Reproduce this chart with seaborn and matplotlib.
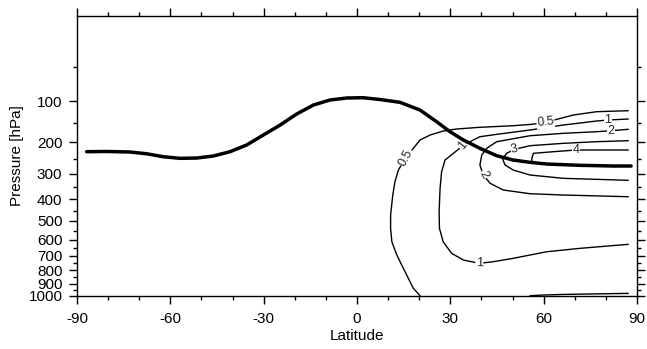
import numpy as np
import pandas as pd
import matplotlib
matplotlib.use("Agg")
import matplotlib.pyplot as plt
import seaborn as sns

# ---------------- data ----------------
# thick line (tropopause)
trop_lat = [-86.9, -80.5, -73.0, -67.6, -62.3, -56.9, -51.5, -46.2, -40.8, -35.5,
            -30.1, -24.7, -19.4, -14.0, -8.7, -3.3, 2.0, 7.4, 13.8, 20.25,
            25.6, 29.9, 34.2, 39.5, 44.9, 50.2, 55.6, 61.0, 71.7, 82.4, 88.1]
trop_p = [227.7, 227.0, 228.6, 234.0, 243.1, 248.2, 247.2, 240.9, 227.7, 208.0,
          180.3, 154.6, 128.4, 108.4, 97.9, 93.8, 93.2, 96.9, 102.7, 119.4,
          146.5, 171.6, 193.9, 217.6, 240.0, 253.6, 261.0, 266.6, 270.9, 273.2, 273.2]

# contour 0.5
c05_lat = [87.2, 77.0, 69.5, 60.6, 56.2, 50.2, 39.5, 32.0, 27.7, 23.5, 20.25, 15.7,
           13.3, 12.2, 11.5, 10.8, 10.8, 11.2, 12.8, 14.9, 16.5, 18.1, 20.25]
c05_p = [120.9, 123.1, 130.7, 147.9, 152.8, 156.3, 160.3, 164.6, 169.8, 180.3, 193.9, 246.3,
         286.9, 329.0, 381.6, 471.0, 538.1, 612.7, 694.4, 784.5, 858.3, 937.6, 1000.0]
# contour 0.5 near the surface
c05s_lat = [55.6, 60.0, 66.3, 75.0, 87.2]
c05s_p = [1000.0, 994.0, 989.0, 985.0, 980.0]

# contour 1
c1_lat = [87.2, 80.6, 77.0, 66.3, 55.6, 44.9, 39.5, 36.3, 34.0, 31.0, 28.3, 27.2,
          26.7, 26.4, 26.5, 27.7, 30.4, 34.2, 39.3, 43.8, 50.2, 61.0, 71.7, 87.2]
c1_p = [140.0, 142.4, 144.8, 154.6, 167.2, 178.5, 184.9, 198.6, 210.0, 232.6, 253.6, 292.8,
        354.5, 455.3, 538.1, 612.7, 683.5, 727.2, 749.6, 738.7, 715.9, 673.4, 652.3, 628.1]

# contour 2
c2_lat = [87.2, 81.6, 77.0, 66.3, 55.6, 44.9, 41.7, 40.1, 39.5, 40.6, 42.8, 47.0,
          55.6, 66.3, 87.2]
c2_p = [165.4, 169.0, 171.6, 175.8, 182.2, 198.6, 217.6, 237.8, 269.9, 304.4, 335.1, 361.2,
        376.2, 381.6, 388.7]

# contour 3
c3_lat = [87.2, 77.0, 66.3, 55.6, 50.6, 48.1, 46.8, 47.6, 50.2, 55.6, 66.3, 87.2]
c3_p = [195.8, 198.6, 203.2, 210.0, 220.6, 232.6, 250.4, 269.9, 286.9, 304.4, 316.4, 323.8]

# contour 4
c4_lat = [87.2, 70.4, 63.1, 56.7, 56.2, 56.2]
c4_p = [222.6, 222.6, 227.7, 232.6, 248.2, 259.1]

# contour labels: text, lat, pressure, rotation
lab_text = ["0.5", "1", "2", "3", "4", "0.5", "1", "2", "1"]
lab_lat = [60.6, 80.6, 81.6, 50.6, 70.4, 15.7, 34.0, 40.6, 39.3]
lab_p = [147.9, 142.4, 169.0, 220.6, 222.6, 246.3, 210.0, 304.4, 749.6]
lab_rot = [6, 0, 0, 14, 0, 62, 52, -62, -2]

# axis ticks
xticks_major = [-90, -60, -30, 0, 30, 60, 90]
xticks_minor = [-80, -70, -50, -40, -20, -10, 10, 20, 40, 50, 70, 80]
yticks_major = [100, 200, 300, 400, 500, 600, 700, 800, 900, 1000]
yticks_minor = [37.4, 150, 250, 350, 450, 550, 650, 750, 850, 950]

# ---------------- style ----------------
sns.set_theme(style="ticks")
plt.rcParams["font.family"] = ["Liberation Sans", "DejaVu Sans"]

fig = plt.figure(figsize=(6.47, 3.49), dpi=100)
W, H = 647.0, 349.0
ax = fig.add_axes([77 / W, 1 - 295.7 / H, (637 - 77) / W, (295.7 - 15.7) / H])

# vertical scale fitted to the reference tick spacing
OFF = 183.0
def fwd(p):
    return np.log(np.clip(np.asarray(p, dtype=float) + OFF, 1e-6, None))
def inv(z):
    return np.exp(z) - OFF
ax.set_yscale("function", functions=(fwd, inv))

lines = [
    (c05_lat, c05_p), (c05s_lat, c05s_p), (c1_lat, c1_p),
    (c2_lat, c2_p), (c3_lat, c3_p), (c4_lat, c4_p),
]
for la, pr in lines:
    sns.lineplot(x=la, y=pr, sort=False, estimator=None, color="black",
                 linewidth=1.0, ax=ax, zorder=2)
sns.lineplot(x=trop_lat, y=trop_p, sort=False, estimator=None, color="black",
             linewidth=2.5, ax=ax, zorder=4)

for t, la, pr, r in zip(lab_text, lab_lat, lab_p, lab_rot):
    ax.text(la, pr, t, rotation=r, ha="center", va="center", fontsize=9,
            rotation_mode="anchor", zorder=3,
            bbox=dict(facecolor="white", edgecolor="none", pad=0.4))

ax.set_xlim(-90, 90)
ax.set_ylim(1000, -31.8)

ax.set_xticks(xticks_major)
ax.set_xticks(xticks_minor, minor=True)
ax.set_xticklabels([str(v) for v in xticks_major])
ax.set_yticks(yticks_major)
ax.set_yticks(yticks_minor, minor=True)
ax.set_yticklabels([str(v) for v in yticks_major])
ax.yaxis.set_minor_formatter(matplotlib.ticker.NullFormatter())

for s in ax.spines.values():
    s.set_visible(True)
    s.set_linewidth(1.0)
    s.set_color("black")

ax.tick_params(which="major", direction="out", length=5.5, width=1.0, color="black",
               top=True, right=True, labeltop=False, labelright=False,
               labelsize=11, labelcolor="black")
ax.tick_params(axis="x", which="major", pad=6.5)
ax.tick_params(axis="y", which="major", pad=5)
ax.tick_params(which="minor", direction="out", length=2.8, width=1.0, color="black",
               top=True, right=True, bottom=True, left=True)

ax.set_xlabel("Latitude", fontsize=11, color="black", labelpad=2)
ax.set_ylabel("Pressure [hPa]", fontsize=11, color="black", labelpad=3)
ax.grid(False)

fig.savefig("out.png", dpi=100)
